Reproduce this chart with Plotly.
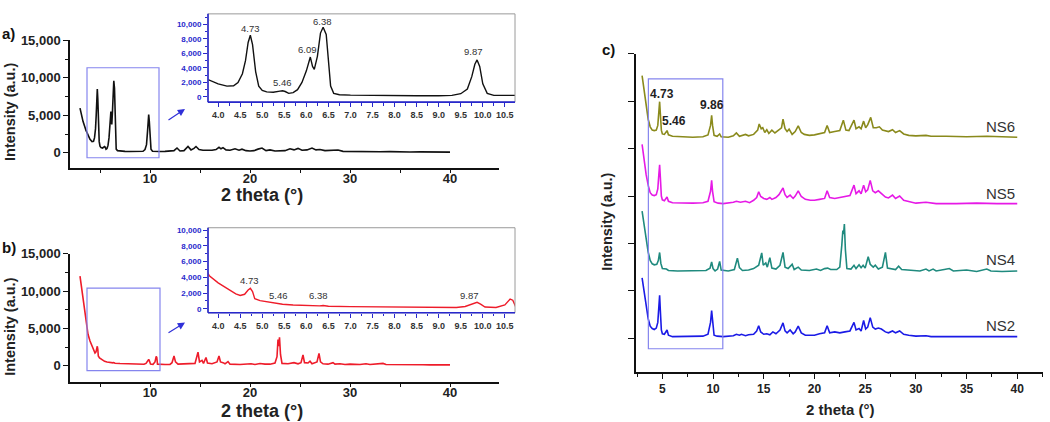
import plotly.graph_objects as go

# ---- data (2 theta, intensity) ----
a_points = [
    (3.0, 5970), (3.3, 4200), (3.6, 3000), (3.77, 2400), (4.0, 1800), (4.2, 1500),
    (4.35, 1550), (4.45, 2000), (4.55, 3200), (4.62, 5000), (4.68, 7500), (4.73, 8500),
    (4.78, 7200), (4.85, 3500), (4.92, 1500), (5.0, 900), (5.1, 700), (5.25, 650),
    (5.4, 800), (5.46, 850), (5.52, 750), (5.6, 500), (5.7, 600), (5.8, 1000),
    (5.9, 2000), (6.0, 3600), (6.09, 5500), (6.14, 4200), (6.18, 3800), (6.25, 5600),
    (6.32, 8800), (6.38, 9600), (6.45, 8600), (6.5, 4500), (6.55, 1500), (6.62, 500),
    (6.75, 300), (7.0, 250), (7.5, 200), (8.0, 180), (8.5, 170), (9.0, 170),
    (9.3, 220), (9.5, 450), (9.65, 1100), (9.75, 2800), (9.82, 4500), (9.87, 5100),
    (9.93, 4200), (10.0, 1800), (10.1, 500), (10.25, 220), (10.5, 180), (10.73, 170),
    (11.0, 180), (11.5, 200), (12.0, 250), (12.4, 300), (12.7, 650), (13.0, 250),
    (13.4, 300), (13.8, 850), (14.1, 400), (14.4, 600), (14.6, 850), (14.9, 450),
    (15.3, 350), (15.8, 300), (16.2, 350), (16.6, 450), (16.9, 750), (17.1, 550),
    (17.3, 700), (17.6, 400), (18.0, 350), (18.5, 550), (18.9, 350), (19.2, 500),
    (19.6, 300), (20.0, 250), (20.4, 300), (20.8, 500), (21.2, 650), (21.6, 300),
    (22.0, 400), (22.5, 250), (23.0, 300), (23.5, 300), (24.0, 550), (24.4, 400),
    (24.8, 600), (25.2, 350), (25.7, 400), (26.2, 650), (26.6, 400), (27.0, 450),
    (27.5, 300), (28.0, 350), (28.5, 300), (28.8, 380), (29.3, 200), (30.0, 180),
    (31.0, 230), (32.0, 150), (33.0, 150), (34.0, 170), (35.0, 120), (36.0, 120),
    (37.0, 130), (38.0, 110), (39.0, 110), (40.0, 100),
]

b_points = [
    (3.0, 12000), (3.2, 10200), (3.4, 8300), (3.6, 6300), (3.8, 4200), (4.0, 3300),
    (4.2, 2600), (4.4, 1900), (4.5, 1700), (4.6, 1850), (4.68, 2400), (4.73, 2600),
    (4.78, 2200), (4.83, 1300), (4.95, 1050), (5.2, 800), (5.46, 580), (5.7, 480),
    (6.0, 400), (6.3, 380), (6.38, 420), (6.5, 330), (7.0, 280), (7.5, 240),
    (8.0, 200), (8.5, 180), (9.0, 160), (9.4, 180), (9.6, 300), (9.75, 600),
    (9.87, 830), (9.95, 600), (10.05, 230), (10.3, 180), (10.5, 500), (10.62, 1250),
    (10.68, 1100), (10.75, 200), (11.0, 150), (11.5, 150), (12.0, 170), (12.2, 400),
    (12.4, 1300), (12.55, 500), (12.8, 200), (13.5, 200), (14.0, 250), (14.5, 300),
    (14.8, 1800), (14.95, 500), (15.2, 700), (15.35, 300), (15.6, 1100), (15.75, 350),
    (16.2, 250), (16.7, 500), (16.9, 1300), (17.05, 500), (17.3, 400), (17.5, 250),
    (17.8, 550), (18.0, 200), (19.0, 150), (20.1, 250), (20.5, 150), (21.0, 280),
    (21.5, 200), (22.0, 200), (22.5, 350), (22.7, 1200), (22.8, 3500), (22.88, 2600),
    (22.95, 3800), (23.05, 1500), (23.2, 300), (23.8, 250), (24.4, 400), (24.8, 250),
    (25.1, 400), (25.3, 1450), (25.45, 400), (25.8, 350), (26.0, 600), (26.2, 250),
    (26.7, 500), (26.9, 1650), (27.05, 500), (27.3, 250), (27.8, 200), (28.3, 400),
    (28.5, 200), (29.0, 250), (29.5, 150), (30.0, 200), (31.0, 150), (31.6, 250),
    (32.0, 150), (32.8, 250), (33.3, 300), (33.6, 150), (35.0, 150), (36.0, 120),
    (37.0, 220), (37.3, 120), (38.0, 110), (39.0, 110), (40.0, 100),
]

ns6_points = [
    (3.0, 1.30), (3.2, 0.95), (3.4, 0.62), (3.6, 0.38), (3.8, 0.22), (4.0, 0.15),
    (4.2, 0.14), (4.4, 0.15), (4.55, 0.25), (4.65, 0.55), (4.73, 0.75), (4.8, 0.5),
    (4.9, 0.15), (5.0, 0.07), (5.2, 0.06), (5.46, 0.14), (5.6, 0.05), (6.0, 0.02),
    (7.0, 0.01), (8.0, 0.0), (9.0, 0.01), (9.5, 0.05), (9.75, 0.25), (9.86, 0.46),
    (9.95, 0.25), (10.1, 0.04), (10.4, 0.02), (10.65, 0.07), (10.8, 0.01), (11.5, 0.0),
    (12.0, 0.03), (12.3, 0.09), (12.6, 0.02), (13.0, 0.04), (13.2, 0.06), (13.5, 0.03),
    (14.0, 0.06), (14.4, 0.15), (14.55, 0.28), (14.75, 0.18), (14.9, 0.2), (15.1, 0.1),
    (15.3, 0.16), (15.5, 0.08), (15.8, 0.15), (16.1, 0.09), (16.5, 0.15), (16.75, 0.2),
    (16.9, 0.38), (17.1, 0.18), (17.3, 0.12), (17.5, 0.17), (17.8, 0.06), (18.1, 0.12),
    (18.4, 0.24), (18.7, 0.1), (19.0, 0.06), (19.5, 0.04), (20.0, 0.05), (20.5, 0.08),
    (21.0, 0.1), (21.25, 0.25), (21.5, 0.1), (22.0, 0.12), (22.5, 0.14), (22.85, 0.36),
    (23.1, 0.15), (23.4, 0.14), (23.9, 0.36), (24.1, 0.18), (24.4, 0.22), (24.6, 0.18),
    (24.85, 0.34), (25.05, 0.2), (25.25, 0.26), (25.55, 0.42), (25.8, 0.2), (26.1, 0.2),
    (26.4, 0.22), (26.7, 0.15), (27.0, 0.13), (27.3, 0.12), (27.7, 0.16), (28.0, 0.1),
    (28.4, 0.14), (28.8, 0.07), (29.3, 0.04), (30.0, 0.03), (31.0, 0.04), (31.5, 0.02),
    (33.0, 0.02), (35.0, 0.01), (37.0, 0.02), (40.0, 0.0),
]

ns5_points = [
    (3.0, 1.24), (3.2, 0.9), (3.4, 0.6), (3.6, 0.38), (3.8, 0.22), (4.0, 0.17),
    (4.2, 0.16), (4.4, 0.18), (4.55, 0.3), (4.65, 0.6), (4.73, 0.81), (4.8, 0.55),
    (4.9, 0.15), (5.0, 0.07), (5.2, 0.05), (5.46, 0.13), (5.6, 0.04), (6.0, 0.01),
    (7.0, 0.0), (8.0, 0.0), (9.0, 0.01), (9.5, 0.04), (9.75, 0.25), (9.86, 0.48),
    (9.95, 0.25), (10.1, 0.03), (10.5, 0.0), (11.0, -0.01), (12.0, 0.02), (12.3, 0.04),
    (12.7, 0.02), (13.2, 0.04), (13.6, 0.01), (14.0, 0.06), (14.3, 0.12), (14.5, 0.24),
    (14.7, 0.14), (15.0, 0.1), (15.3, 0.08), (15.6, 0.12), (15.8, 0.08), (16.2, 0.12),
    (16.5, 0.18), (16.9, 0.32), (17.1, 0.18), (17.3, 0.12), (17.6, 0.17), (17.9, 0.1),
    (18.1, 0.15), (18.4, 0.26), (18.7, 0.14), (19.1, 0.08), (19.6, 0.06), (20.0, 0.06),
    (20.5, 0.08), (21.0, 0.1), (21.25, 0.26), (21.5, 0.12), (22.0, 0.1), (22.5, 0.12),
    (23.0, 0.14), (23.5, 0.16), (23.9, 0.38), (24.1, 0.2), (24.4, 0.26), (24.6, 0.2),
    (24.85, 0.38), (25.05, 0.24), (25.25, 0.28), (25.5, 0.48), (25.75, 0.26), (26.0, 0.22),
    (26.3, 0.26), (26.6, 0.2), (27.0, 0.13), (27.3, 0.11), (27.7, 0.17), (28.0, 0.1),
    (28.4, 0.15), (28.8, 0.06), (29.3, 0.03), (30.0, 0.0), (31.0, 0.02), (32.0, -0.01),
    (34.0, -0.01), (36.0, 0.0), (38.0, -0.01), (40.0, -0.01),
]

ns4_points = [
    (3.0, 1.26), (3.2, 0.95), (3.4, 0.65), (3.6, 0.4), (3.8, 0.22), (4.0, 0.15),
    (4.2, 0.13), (4.45, 0.14), (4.6, 0.22), (4.73, 0.39), (4.85, 0.16), (5.0, 0.05),
    (5.4, 0.04), (5.6, 0.01), (6.5, 0.0), (8.0, 0.0), (9.3, 0.01), (9.7, 0.06),
    (9.86, 0.19), (10.0, 0.05), (10.2, 0.0), (10.45, 0.04), (10.65, 0.2), (10.8, 0.02),
    (11.5, 0.0), (12.1, 0.03), (12.4, 0.27), (12.6, 0.07), (12.9, 0.01), (13.5, 0.02),
    (14.0, 0.05), (14.5, 0.12), (14.8, 0.38), (14.95, 0.12), (15.2, 0.17), (15.35, 0.08),
    (15.6, 0.28), (15.8, 0.06), (16.2, 0.04), (16.6, 0.12), (16.9, 0.39), (17.1, 0.08),
    (17.4, 0.05), (17.8, 0.14), (18.0, 0.03), (18.4, 0.08), (18.7, 0.02), (19.5, 0.01),
    (20.2, 0.04), (20.6, 0.01), (21.0, 0.05), (21.3, 0.06), (21.6, 0.03), (22.2, 0.03),
    (22.5, 0.08), (22.7, 0.55), (22.8, 0.85), (22.87, 0.78), (22.95, 0.99), (23.05, 0.45),
    (23.2, 0.05), (23.6, 0.04), (23.9, 0.12), (24.1, 0.05), (24.4, 0.13), (24.6, 0.07),
    (24.8, 0.12), (25.0, 0.06), (25.3, 0.3), (25.5, 0.14), (25.8, 0.08), (26.0, 0.12),
    (26.3, 0.04), (26.7, 0.08), (27.0, 0.39), (27.2, 0.06), (27.6, 0.05), (28.0, 0.03),
    (28.3, 0.1), (28.6, 0.03), (29.2, 0.02), (29.8, 0.01), (30.4, 0.0), (31.0, 0.04),
    (31.3, 0.0), (31.7, 0.04), (32.0, 0.0), (32.8, 0.03), (33.3, 0.05), (33.7, 0.0),
    (35.0, 0.02), (36.0, -0.01), (37.0, 0.04), (37.4, 0.0), (38.5, -0.01), (40.0, 0.0),
]

ns2_points = [
    (3.0, 1.24), (3.2, 0.92), (3.4, 0.62), (3.6, 0.38), (3.8, 0.22), (4.0, 0.17),
    (4.2, 0.15), (4.4, 0.18), (4.55, 0.3), (4.65, 0.62), (4.73, 0.87), (4.8, 0.55),
    (4.9, 0.14), (5.0, 0.06), (5.2, 0.05), (5.46, 0.14), (5.6, 0.03), (6.0, 0.0),
    (7.0, 0.0), (8.0, 0.0), (9.0, 0.01), (9.5, 0.05), (9.75, 0.3), (9.86, 0.55),
    (9.95, 0.3), (10.1, 0.03), (10.4, 0.01), (11.0, 0.0), (12.0, 0.02), (12.3, 0.05),
    (12.6, 0.03), (12.8, 0.05), (13.2, 0.02), (13.5, 0.04), (14.0, 0.05), (14.3, 0.12),
    (14.5, 0.23), (14.7, 0.1), (15.0, 0.05), (15.3, 0.06), (15.6, 0.04), (15.9, 0.1),
    (16.2, 0.06), (16.6, 0.14), (16.9, 0.29), (17.1, 0.12), (17.3, 0.08), (17.6, 0.14),
    (17.9, 0.06), (18.1, 0.1), (18.4, 0.22), (18.7, 0.08), (19.1, 0.03), (19.6, 0.03),
    (20.0, 0.03), (20.5, 0.06), (21.0, 0.08), (21.25, 0.23), (21.5, 0.08), (22.0, 0.1),
    (22.5, 0.08), (23.0, 0.1), (23.5, 0.12), (23.9, 0.3), (24.1, 0.14), (24.4, 0.17),
    (24.6, 0.12), (24.85, 0.34), (25.05, 0.16), (25.25, 0.2), (25.5, 0.4), (25.75, 0.2),
    (26.0, 0.16), (26.3, 0.18), (26.6, 0.16), (27.0, 0.1), (27.3, 0.08), (27.7, 0.12),
    (28.0, 0.08), (28.4, 0.12), (28.8, 0.05), (29.3, 0.03), (30.0, 0.01), (31.0, 0.02),
    (31.5, 0.0), (33.0, 0.0), (35.0, 0.0), (37.0, 0.0), (40.0, 0.0),
]

inset_a_labels = [("4.73", 4.73, 9400), ("5.46", 5.47, 2050), ("6.09", 6.02, 6550),
                  ("6.38", 6.37, 10400), ("9.87", 9.80, 6300)]
inset_b_labels = [("4.73", 4.71, 3650), ("5.46", 5.36, 1660), ("6.38", 6.27, 1660),
                  ("9.87", 9.69, 1700)]
c_labels = [("4.73", 4.97, 5.15), ("5.46", 6.15, 4.58), ("9.86", 9.87, 4.92)]
c_series = [("NS2", ns2_points, "#1a1ae6"), ("NS4", ns4_points, "#1f8a7e"),
            ("NS5", ns5_points, "#e619e6"), ("NS6", ns6_points, "#8a8a1c")]
c_offsets = {"NS2": 0.035, "NS4": 1.42, "NS5": 2.85, "NS6": 4.24}
c_name_y = {"NS2": 0.26, "NS4": 1.66, "NS5": 3.06, "NS6": 4.47}

FONT = "Arial, Liberation Sans, sans-serif"
BLUE = "#2828cc"
RECT = "#8585ee"


def xy(points):
    return [p[0] for p in points], [p[1] for p in points]


fig = go.Figure()

ax, ay = xy(a_points)
bx, by = xy(b_points)
fig.add_trace(go.Scatter(x=ax, y=ay, mode="lines", line=dict(color="#111111", width=1.6),
                         xaxis="x", yaxis="y"))
fig.add_trace(go.Scatter(x=ax, y=ay, mode="lines", line=dict(color="#111111", width=1.4),
                         xaxis="x2", yaxis="y2"))
fig.add_trace(go.Scatter(x=bx, y=by, mode="lines", line=dict(color="#ee1c2a", width=1.6),
                         xaxis="x3", yaxis="y3"))
fig.add_trace(go.Scatter(x=bx, y=by, mode="lines", line=dict(color="#ee1c2a", width=1.4),
                         xaxis="x4", yaxis="y4"))
for name, pts, col in c_series:
    cx, cy = xy(pts)
    fig.add_trace(go.Scatter(x=cx, y=[v + c_offsets[name] for v in cy], mode="lines",
                             line=dict(color=col, width=1.6), xaxis="x5", yaxis="y5"))


def main_axis(domain, rng, dtick, minor, anchor, fsize=13, tlen=5, standoff=0):
    return dict(domain=domain, range=rng, anchor=anchor, showline=True, linecolor="#111",
                linewidth=1.5, ticks="outside", ticklen=tlen, tickwidth=1.3, tickcolor="#111",
                dtick=dtick, tick0=0, showgrid=False, zeroline=False, tickformat=",",
                ticklabelstandoff=standoff,
                tickfont=dict(family=FONT, size=fsize, color="#222", weight="bold"),
                minor=dict(ticks="outside", ticklen=3, dtick=minor, tickcolor="#111",
                           showgrid=False))


def inset_x(domain, anchor):
    return dict(domain=domain, range=[3.77, 10.73], anchor=anchor, showline=False,
                ticks="outside", ticklen=4, tickwidth=1.3, tickcolor=BLUE, dtick=0.5,
                tick0=4.0, tickformat=".1f", showgrid=False, zeroline=False,
                tickfont=dict(family=FONT, size=9, color="#333", weight="bold"),
                minor=dict(ticks="outside", ticklen=2.5, dtick=0.25, tickcolor=BLUE,
                           showgrid=False))


def inset_y(domain, rng, anchor):
    return dict(domain=domain, range=rng, anchor=anchor, showline=False, ticks="outside",
                ticklen=4, tickwidth=1.3, tickcolor=BLUE, dtick=2000, tick0=0,
                tickformat=",", showgrid=False, zeroline=False,
                tickfont=dict(family=FONT, size=8, color=BLUE, weight="bold"),
                minor=dict(ticks="outside", ticklen=2.5, dtick=1000, tickcolor=BLUE,
                           showgrid=False))


W, H = 1050, 422
ins_xd = [208 / W, 515 / W]
ins_a_yd = [1 - 97 / H, 1 - 7 / H]
ins_b_yd = [1 - 311.7 / H, 1 - 225 / H]

fig.update_layout(
    xaxis=main_axis([70 / W, 499 / W], [2.0, 44.9], 10, 5, "y", tlen=3, standoff=-5),
    yaxis=main_axis([1 - 164 / H, 1 - 34 / H], [-2000, 15000], 5000, 2500, "x"),
    xaxis2=inset_x(ins_xd, "y2"),
    yaxis2=inset_y(ins_a_yd, [-716, 11446], "x2"),
    xaxis3=main_axis([70 / W, 499 / W], [2.0, 44.9], 10, 5, "y3", tlen=3, standoff=-5),
    yaxis3=main_axis([1 - 382.3 / H, 1 - 251.6 / H], [-2200, 15000], 5000, 2500, "x3"),
    xaxis4=inset_x(ins_xd, "y4"),
    yaxis4=inset_y(ins_b_yd, [-500, 10290], "x4"),
    xaxis5=main_axis([635.7 / W, 1043.3 / W], [2.37, 42.57], 5, 2.5, "y5", fsize=12),
    yaxis5=dict(domain=[1 - 372.3 / H, 1 - 47.7 / H], range=[-0.716, 6.0], anchor="x5",
                showline=True, linecolor="#111", linewidth=1.5, ticks="outside",
                ticklen=6, tickwidth=1.3, tickcolor="#111", tickvals=[0, 1, 2, 3, 4, 5, 6],
                showticklabels=False, showgrid=False, zeroline=False),
)

shapes = []
# inset frames: gray box, blue left/bottom axis lines
for yd in (ins_a_yd, ins_b_yd):
    shapes.append(dict(type="rect", xref="paper", yref="paper", x0=ins_xd[0], x1=ins_xd[1],
                       y0=yd[0], y1=yd[1], line=dict(color="#9a9a9a", width=1)))
    shapes.append(dict(type="line", xref="paper", yref="paper", x0=ins_xd[0], x1=ins_xd[0],
                       y0=yd[0], y1=yd[1], line=dict(color=BLUE, width=1.6)))
    shapes.append(dict(type="line", xref="paper", yref="paper", x0=ins_xd[0], x1=ins_xd[1],
                       y0=yd[0], y1=yd[0], line=dict(color=BLUE, width=1.6)))
# zoom boxes
shapes.append(dict(type="rect", xref="x", yref="y", x0=3.7, x1=10.9, y0=-650, y1=11350,
                   line=dict(color=RECT, width=1.2)))
shapes.append(dict(type="rect", xref="x3", yref="y3", x0=3.7, x1=11.0, y0=-660, y1=10400,
                   line=dict(color=RECT, width=1.2)))
shapes.append(dict(type="rect", xref="x5", yref="y5", x0=3.62, x1=10.96, y0=-0.22, y1=5.47,
                   line=dict(color=RECT, width=1.2)))
fig.update_layout(shapes=shapes)

ann = []
for txt, x, y in inset_a_labels:
    ann.append(dict(text=txt, x=x, y=y, xref="x2", yref="y2", showarrow=False,
                    font=dict(family=FONT, size=9.5, color="#333")))
for txt, x, y in inset_b_labels:
    ann.append(dict(text=txt, x=x, y=y, xref="x4", yref="y4", showarrow=False,
                    font=dict(family=FONT, size=9.5, color="#333")))
for txt, x, y in c_labels:
    ann.append(dict(text=txt, x=x, y=y, xref="x5", yref="y5", showarrow=False,
                    font=dict(family=FONT, size=12, color="#222", weight="bold")))
for name, _, _ in c_series:
    ann.append(dict(text=name, x=40, y=c_name_y[name], xref="x5", yref="y5",
                    xanchor="right", yanchor="middle", showarrow=False,
                    font=dict(family=FONT, size=15, color="#333")))

# arrows from zoom box to inset
for yh, dy in ((1 - 104 / H, 12), (1 - 321.7 / H, 11)):
    ann.append(dict(text="", x=185 / W, y=yh, xref="paper", yref="paper", showarrow=True,
                    ax=-18, ay=dy, arrowhead=2, arrowsize=1.2, arrowwidth=1.2,
                    arrowcolor="#3030d8"))

# panel letters and axis titles
for txt, x, y in (("a)", 0.0, 1 - 27 / H), ("b)", 0.0, 1 - 245 / H), ("c)", 600 / W, 1 - 43 / H)):
    ann.append(dict(text=txt, x=x, y=y, xref="paper", yref="paper", xanchor="left",
                    yanchor="middle", showarrow=False,
                    font=dict(family=FONT, size=15, color="#111", weight="bold")))
for x, y in ((10 / W, 1 - 107 / H), (10 / W, 1 - 326 / H), (607 / W, 1 - 219 / H)):
    ann.append(dict(text="Intensity (a.u.)", x=x, y=y, xref="paper", yref="paper",
                    xanchor="center", yanchor="middle", textangle=-90, showarrow=False,
                    font=dict(family=FONT, size=14.5, color="#222", weight="bold")))
for x, y, size in ((262 / W, 1 - 192 / H, 18), (262 / W, 1 - 412 / H, 18),
                   (840 / W, 1 - 410.7 / H, 15)):
    ann.append(dict(text="2 theta (°)", x=x, y=y, xref="paper", yref="paper",
                    xanchor="center", yanchor="middle", showarrow=False,
                    font=dict(family=FONT, size=size, color="#222", weight="bold")))

fig.update_layout(
    annotations=ann,
    width=W, height=H, autosize=False,
    margin=dict(l=0, r=0, t=0, b=0),
    paper_bgcolor="white", plot_bgcolor="rgba(0,0,0,0)",
    showlegend=False,
    font=dict(family=FONT),
)

# the page's default body margin would push the fixed-size figure off the window
page_css = ("document.documentElement.style.margin='0';"
            "document.body.style.margin='0';document.body.style.padding='0';"
            "document.body.style.overflow='hidden';")
fig.write_html("out.html", config={"displayModeBar": False}, post_script=page_css)
